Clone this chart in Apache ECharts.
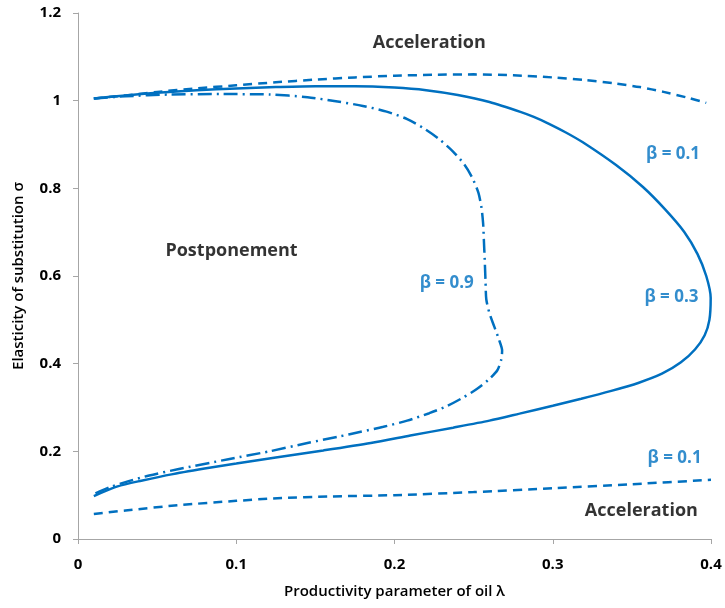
<!DOCTYPE html>
<html>
<head>
<meta charset="utf-8">
<script src="https://cdn.jsdelivr.net/npm/echarts@6/dist/echarts.min.js"></script>
<style>html,body{margin:0;padding:0;background:#fff;}#c{width:725px;height:608px;}</style>
</head>
<body>
<div id="c"></div>
<script>
// β = 0.1 upper branch (dashed)
var b01UpX = [0.01, 0.03, 0.05, 0.075, 0.1, 0.125, 0.15, 0.175, 0.2, 0.225, 0.25, 0.275, 0.3, 0.32, 0.34, 0.355, 0.37, 0.385, 0.397];
var b01UpY = [1.005, 1.012, 1.02, 1.028, 1.035, 1.042, 1.048, 1.053, 1.057, 1.059, 1.06, 1.058, 1.053, 1.047, 1.039, 1.031, 1.02, 1.007, 0.995];
// β = 0.1 lower branch (dashed)
var b01LoX = [0.01, 0.03, 0.063, 0.1, 0.126, 0.16, 0.2, 0.25, 0.3, 0.35, 0.4];
var b01LoY = [0.057, 0.065, 0.077, 0.087, 0.093, 0.097, 0.1, 0.107, 0.116, 0.125, 0.135];
// β = 0.3 (solid)
var b03X = [0.01, 0.03, 0.05, 0.075, 0.1, 0.125, 0.15, 0.175, 0.2, 0.22, 0.24, 0.26, 0.28, 0.288, 0.296, 0.308, 0.319, 0.34, 0.357, 0.371, 0.383, 0.3915, 0.397, 0.3998, 0.399, 0.396, 0.39, 0.381, 0.369, 0.354, 0.337, 0.318, 0.3, 0.279, 0.26, 0.237, 0.21, 0.185, 0.155, 0.125, 0.1, 0.084, 0.06, 0.04, 0.025, 0.01];
var b03Y = [1.005, 1.012, 1.018, 1.024, 1.028, 1.031, 1.033, 1.033, 1.03, 1.024, 1.013, 0.997, 0.974, 0.963, 0.95, 0.928, 0.905, 0.853, 0.803, 0.752, 0.701, 0.65, 0.6, 0.55, 0.5, 0.465, 0.433, 0.403, 0.377, 0.356, 0.338, 0.32, 0.304, 0.286, 0.27, 0.254, 0.236, 0.219, 0.202, 0.186, 0.172, 0.163, 0.148, 0.133, 0.12, 0.098];
// β = 0.9 (dash-dot)
var b09X = [0.01, 0.03, 0.058, 0.09, 0.121, 0.145, 0.164, 0.18, 0.195, 0.208, 0.218, 0.228, 0.237, 0.244, 0.249, 0.253, 0.255, 0.256, 0.2565, 0.257, 0.2575, 0.258, 0.26, 0.263, 0.266, 0.268, 0.2675, 0.265, 0.259, 0.252, 0.243, 0.233, 0.222, 0.208, 0.193, 0.178, 0.164, 0.145, 0.121, 0.095, 0.063, 0.045, 0.032, 0.02, 0.01];
var b09Y = [1.005, 1.01, 1.014, 1.015, 1.014, 1.008, 0.998, 0.988, 0.975, 0.958, 0.938, 0.913, 0.884, 0.855, 0.825, 0.79, 0.755, 0.72, 0.68, 0.638, 0.59, 0.547, 0.515, 0.485, 0.455, 0.43, 0.41, 0.385, 0.362, 0.342, 0.322, 0.303, 0.287, 0.27, 0.256, 0.244, 0.233, 0.219, 0.2, 0.182, 0.159, 0.145, 0.132, 0.118, 0.1025];
// axis ticks
var xTicks = [0, 0.1, 0.2, 0.3, 0.4];
var yTicks = [0, 0.2, 0.4, 0.6, 0.8, 1, 1.2];
// annotations
var regionText = ['Acceleration', 'Postponement', 'Acceleration'];
var regionX = [0.222, 0.097, 0.356];
var regionY = [1.132, 0.658, 0.064];
var betaText = ['β = 0.1', 'β = 0.9', 'β = 0.3', 'β = 0.1'];
var betaX = [0.376, 0.233, 0.375, 0.377];
var betaY = [0.877, 0.583, 0.551, 0.185];

function pairs(xs, ys) { return xs.map(function (x, i) { return [x, ys[i]]; }); }
function labelled(xs, ys, names) { return xs.map(function (x, i) { return { value: [x, ys[i]], name: names[i] }; }); }

var blue = '#0070C0';
var font = '"Open Sans", "Noto Sans", sans-serif';
var chart = echarts.init(document.getElementById('c'));
function lineSeries(data, type) {
  return {
    type: 'line', data: data, showSymbol: false, smooth: 0.25,
    lineStyle: { color: blue, width: 2.5, type: type }, silent: true, animation: false
  };
}
function tickFmt(list) {
  return function (v) { var r = +v.toFixed(2); return list.indexOf(r) >= 0 ? String(r) : ''; };
}
chart.setOption({
  animation: false,
  grid: { left: 78, right: 14, top: 13, bottom: 69, containLabel: false },
  xAxis: {
    type: 'value', min: 0, max: 0.4, interval: 0.1,
    name: 'Productivity parameter of oil λ', nameLocation: 'middle', nameGap: 45,
    nameTextStyle: { fontFamily: font, fontSize: 15, fontWeight: 600, color: '#000' },
    axisLine: { show: true, lineStyle: { color: '#a6a6a6', width: 1 } },
    axisTick: { show: true, inside: false, length: 5, lineStyle: { color: '#a6a6a6' } },
    axisLabel: { fontFamily: font, fontSize: 15, fontWeight: 'bold', color: '#000', margin: 18, formatter: tickFmt(xTicks) },
    splitLine: { show: false }
  },
  yAxis: {
    type: 'value', min: 0, max: 1.2, interval: 0.2,
    name: 'Elasticity of substitution σ', nameLocation: 'middle', nameGap: 52, nameRotate: 90,
    nameTextStyle: { fontFamily: font, fontSize: 15, fontWeight: 600, color: '#000' },
    axisLine: { show: true, lineStyle: { color: '#a6a6a6', width: 1 } },
    axisTick: { show: true, inside: false, length: 5, lineStyle: { color: '#a6a6a6' } },
    axisLabel: { fontFamily: font, fontSize: 15, fontWeight: 'bold', color: '#000', margin: 17, formatter: tickFmt(yTicks) },
    splitLine: { show: false }
  },
  series: [
    lineSeries(pairs(b01UpX, b01UpY), [9, 6]),
    lineSeries(pairs(b01LoX, b01LoY), [9, 6]),
    lineSeries(pairs(b03X, b03Y), 'solid'),
    lineSeries(pairs(b09X, b09Y), [14, 5, 2, 5]),
    {
      type: 'scatter', symbolSize: 0, silent: true, animation: false,
      data: labelled(regionX, regionY, regionText),
      label: { show: true, position: 'inside', formatter: '{b}', fontFamily: font, fontSize: 18, fontWeight: 'bold', color: '#000' }
    },
    {
      type: 'scatter', symbolSize: 0, silent: true, animation: false,
      data: labelled(betaX, betaY, betaText),
      label: { show: true, position: 'inside', formatter: '{b}', fontFamily: font, fontSize: 17, fontWeight: 'bold', color: blue }
    }
  ]
});
</script>
</body>
</html>
